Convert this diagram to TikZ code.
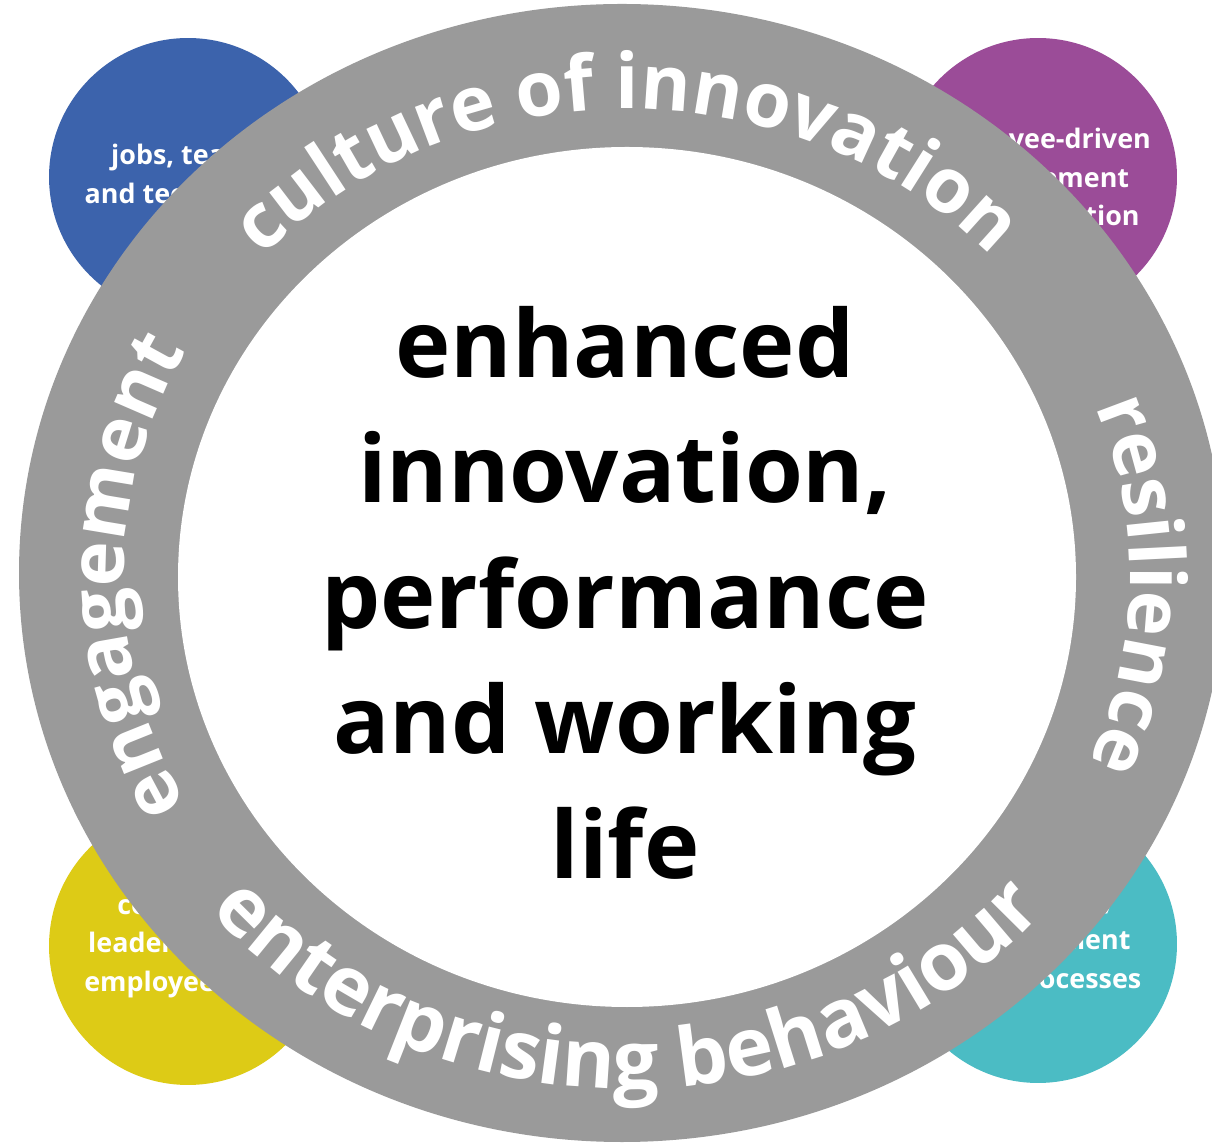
\documentclass[tikz,border=0pt]{standalone}
\usepackage{fontspec}
\setmainfont{Open Sans}
\usetikzlibrary{decorations.text}
\definecolor{ringgray}{RGB}{154,154,154}
\definecolor{jobsblue}{RGB}{60,99,172}
\definecolor{edipurple}{RGB}{155,76,152}
\definecolor{leadyellow}{RGB}{221,203,22}
\definecolor{procteal}{RGB}{75,188,196}
\newcommand{\ringfont}{\bfseries\fontsize{43.5}{48}\selectfont}
\newcommand{\ringfontbig}{\bfseries\fontsize{46.2}{51}\selectfont}
\tikzset{
  blob/.style={circle, inner sep=0pt, minimum size=5.56cm, text=white, align=center,
    font=\bfseries\fontsize{15.3}{22.1}\selectfont},
  ringtext/.style 2 args={decorate, decoration={text along path, text align=center,
    text color=white, text={|#1|#2}}}
}

\begin{document}
\begin{tikzpicture}[x=0.02cm, y=0.02cm]
    \useasboundingbox (0,0) rectangle (1212,1142);
    \fill[white] (0,0) rectangle (1212,1142);
    \clip (0,0) rectangle (1212,1142);

    % corner circles, partly under the ring
    \node[blob, fill=jobsblue] (c1) at (188,965) {jobs, teams\\and technology};
    \node[blob, fill=edipurple] (c2) at (1038,965) {employee-driven\\improvement\\and innovation};
    \node[blob, fill=leadyellow] (c3) at (188,196) {co-created\\leadership and\\employee voice};
    \node[blob, fill=procteal] (c4) at (1038,198) {structures,\\lean, efficient\\work processes};

    % the ring
    \coordinate (o) at (627,565);
    \fill[ringgray] (622,569) ellipse[x radius=603, y radius=569];
    \fill[white] (o) ellipse[x radius=449, y radius=430];

    \path[ringtext={\ringfont}{culture of innovation}] (o) ++(180:500 and 468)
      arc[start angle=180, end angle=0, x radius=500, y radius=468];
    \path[ringtext={\ringfont}{engagement}] (o) ++(270:503 and 468)
      arc[start angle=270, end angle=90, x radius=503, y radius=468];
    \path[ringtext={\ringfont}{resilience}] (o) ++(89:503 and 468)
      arc[start angle=89, end angle=-91, x radius=503, y radius=468];
    \path[ringtext={\ringfontbig}{enterprising behaviour}] (o) ++(180:550 and 512)
      arc[start angle=180, end angle=360, x radius=550, y radius=512];

    \node[align=center, inner sep=0pt, font=\bfseries\fontsize{53.3}{71.3}\selectfont] (goal)
      at (625,549) {enhanced\\innovation,\\performance\\and working\\life};
\end{tikzpicture}
\end{document}
